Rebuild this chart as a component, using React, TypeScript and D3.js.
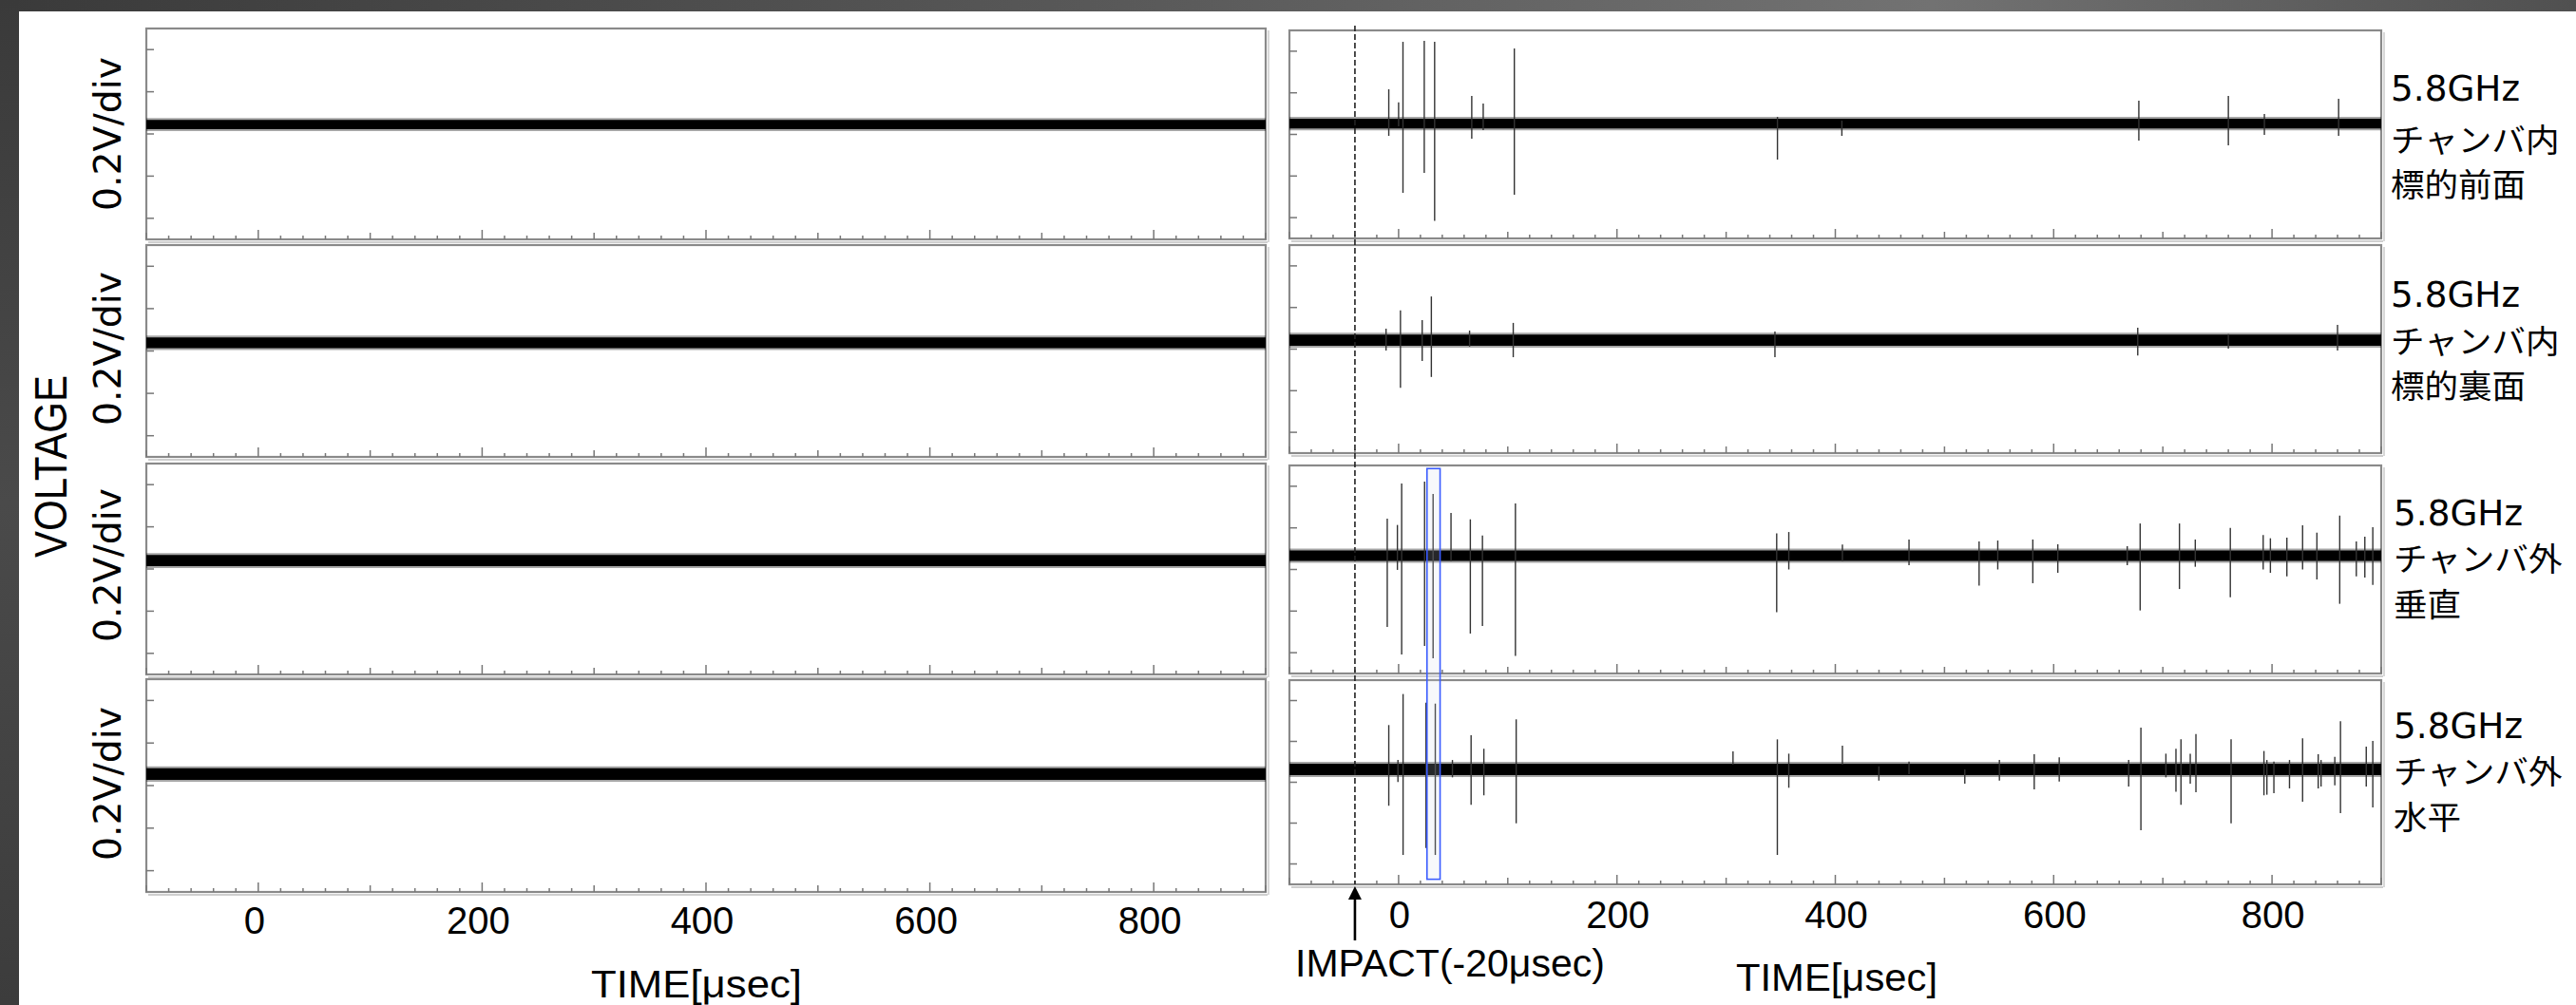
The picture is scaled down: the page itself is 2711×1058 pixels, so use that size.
import React, { useEffect } from 'react';
import * as d3 from 'd3';

// ---------- data ----------
const timeDomain: [number, number] = [-100, 900];
const voltDomain: [number, number] = [-0.5, 0.5];
const timeTickLabels = [0, 200, 400, 600, 800];
const voltTicks = [-0.4, -0.2, 0, 0.2, 0.4];
const impactTime = -40;
const highlightRange = [26, 38];

const channelLine1 = ['5.8GHz', '5.8GHz', '5.8GHz', '5.8GHz'];
const channelLine2 = ['チャンバ内', 'チャンバ内', 'チャンバ外', 'チャンバ外'];
const channelLine3 = ['標的前面', '標的裏面', '垂直', '水平'];

// baseline level and noise half-width (V) of each trace
const leftBaseline = [0.045, 0.039, 0.04, 0.054];
const leftNoise = [0.022, 0.025, 0.027, 0.027];
const rightBaseline = [0.052, 0.043, 0.066, 0.063];
const rightNoise = [0.023, 0.027, 0.025, 0.028];

// spikes: [time μs, max V, min V]
const spikesCh1: number[][] = [
  [-9, 0.217, -0.007], [0, 0.154, 0.039], [4, 0.445, -0.281], [23.5, 0.45, -0.185],
  [33, 0.445, -0.415], [67, 0.185, -0.02], [77.5, 0.148, 0.02], [106, 0.413, -0.29],
  [347, 0.084, -0.121], [406, 0.066, -0.007], [678, 0.162, -0.03], [760, 0.185, -0.053],
  [793, 0.098, -0.002], [861, 0.171, -0.007],
];
const spikesCh2: number[][] = [
  [-11.5, 0.098, -0.007], [1.7, 0.186, -0.186], [21.6, 0.139, -0.057], [30, 0.253, -0.134],
  [65, 0.089, 0.012], [105, 0.126, -0.039], [344.7, 0.084, -0.039], [677, 0.103, -0.031],
  [760, 0.072, 0.002], [860, 0.116, -0.007],
];
const spikesCh3: number[][] = [
  [-10.4, 0.244, -0.276], [-1.1, 0.214, -0.002], [2.8, 0.413, -0.409], [23.8, 0.422, -0.368],
  [31.6, 0.363, -0.427], [48, 0.272, 0.04], [65.7, 0.241, -0.308], [76.8, 0.163, -0.272],
  [107, 0.317, -0.416], [346.3, 0.173, -0.205], [357.4, 0.18, 0], [406.5, 0.12, 0.04],
  [467.5, 0.144, 0.02], [531.7, 0.135, -0.078], [548.8, 0.139, 0], [580.9, 0.144, -0.066],
  [603.8, 0.121, -0.016], [667.4, 0.112, 0.02], [679.2, 0.221, -0.197], [715.2, 0.221, -0.094],
  [729.7, 0.144, 0.013], [761.8, 0.2, -0.133], [791.9, 0.166, 0], [798.5, 0.15, -0.016],
  [813.6, 0.153, -0.033], [828, 0.212, 0], [841.1, 0.177, -0.048], [862, 0.259, -0.165],
  [877.2, 0.135, -0.033], [885, 0.158, -0.039], [892.3, 0.203, -0.074],
];
const spikesCh4: number[][] = [
  [-9, 0.28, -0.115], [-0.6, 0.109, 0.001], [4.1, 0.432, -0.356], [25.1, 0.389, -0.322],
  [33.6, 0.385, -0.356], [49.3, 0.109, 0.024], [66.4, 0.23, -0.111], [78.1, 0.164, -0.064],
  [107.7, 0.308, -0.201], [306.3, 0.151, 0.086], [346.9, 0.21, -0.356], [357.4, 0.14, -0.027],
  [406.5, 0.179, 0.086], [439.9, 0.078, 0.008], [467.5, 0.101, 0.04], [518.6, 0.063, -0.007],
  [550.3, 0.109, 0.008], [582.2, 0.137, -0.035], [605.1, 0.122, 0.004], [668.7, 0.109, -0.021],
  [679.9, 0.267, -0.235], [702.8, 0.14, 0.024], [712, 0.164, -0.046], [716.6, 0.21, -0.111],
  [725.1, 0.14, -0.007], [730.3, 0.236, -0.049], [762.5, 0.21, -0.201], [792.6, 0.153, -0.064],
  [795.3, 0.109, -0.061], [801.7, 0.101, -0.053], [816, 0.109, -0.03], [828, 0.215, -0.095],
  [842.3, 0.137, -0.03], [844.9, 0.109, -0.021], [857.5, 0.125, -0.015], [862.7, 0.299, -0.151],
  [886.3, 0.174, -0.021], [892.3, 0.202, -0.123],
];
const rightSpikes = [spikesCh1, spikesCh2, spikesCh3, spikesCh4];

// ---------- layout ----------
const W = 2711;
const H = 1058;
const leftX: [number, number] = [154, 1332];
const rightX: [number, number] = [1357, 2506];
const leftTops = [30, 258, 488, 715];
const leftBottoms = [252, 481, 710, 939];
const rightTops = [32, 258, 490, 716];
const rightBottoms = [251, 477, 709, 931];
const labelBase = [
  [106, 160, 207],
  [323, 372, 419],
  [553, 601, 649],
  [777, 825, 873],
];
const labelX = [2516, 2516, 2519, 2519];
const voltLabelCenters = [141, 367, 595, 825];
const CJK_ADV = 35.5;

const xLeft = d3.scaleLinear().domain(timeDomain).range(leftX);
const xRight = d3.scaleLinear().domain(timeDomain).range(rightX);
const allTicks = d3.range(timeDomain[0], timeDomain[1] + 1, 20);

const FRAME = '#8a8a8a';

function Panel(props: {
  xs: d3.ScaleLinear<number, number>;
  top: number;
  bottom: number;
  baseline: number;
  noise: number;
  spikes: number[][];
  id: string;
}) {
  const { xs, top, bottom, baseline, noise, spikes, id } = props;
  const ys = d3.scaleLinear().domain(voltDomain).range([bottom, top]);
  const [x0, x1] = xs.range();
  const band = d3
    .area<number>()
    .x((t) => xs(t))
    .y0(() => ys(baseline - noise))
    .y1(() => ys(baseline + noise));
  const fuzz = d3
    .area<number>()
    .x((t) => xs(t))
    .y0(() => ys(baseline - noise) + 2)
    .y1(() => ys(baseline + noise) - 2);
  const tickLen = (t: number) => (t % 200 === 0 ? 10 : t % 100 === 0 ? 7 : 4);
  return (
    <g>
      <clipPath id={id}>
        <rect x={x0} y={top} width={x1 - x0} height={bottom - top} />
      </clipPath>
      {/* shadow */}
      <line x1={x0 + 2} x2={x1 + 2} y1={bottom + 3} y2={bottom + 3} stroke="#cfcfcf" strokeWidth={2} />
      <line x1={x1 + 3} x2={x1 + 3} y1={top + 2} y2={bottom + 3} stroke="#d8d8d8" strokeWidth={2} />
      <rect x={x0} y={top} width={x1 - x0} height={bottom - top} fill="#fff" stroke={FRAME} strokeWidth={2.2} />
      <g clipPath={`url(#${id})`}>
        <path d={fuzz(timeDomain) || ''} fill="#000" opacity={0.35} />
        <path d={band(timeDomain) || ''} fill="#000" />
        {spikes.map((s, i) => (
          <line
            key={i}
            x1={xs(s[0])}
            x2={xs(s[0])}
            y1={ys(s[1])}
            y2={ys(s[2])}
            stroke="#333"
            strokeWidth={1.4}
          />
        ))}
      </g>
      {voltTicks.map((v) => (
        <line key={v} x1={x0} x2={x0 + 8} y1={ys(v)} y2={ys(v)} stroke="#777" strokeWidth={1.5} />
      ))}
      {allTicks.map((t) => (
        <line
          key={t}
          x1={xs(t)}
          x2={xs(t)}
          y1={bottom}
          y2={bottom - tickLen(t)}
          stroke="#777"
          strokeWidth={1.5}
        />
      ))}
    </g>
  );
}

export default function App() {
  useEffect(() => {
    document.body.style.margin = '0';
    document.body.style.overflow = 'hidden';
  }, []);

  const impX = xRight(impactTime);
  const yHiTop = d3.scaleLinear().domain(voltDomain).range([rightBottoms[2], rightTops[2]])(0.485);
  const yHiBot = d3.scaleLinear().domain(voltDomain).range([rightBottoms[3], rightTops[3]])(-0.475);

  return (
    <svg
      width={W}
      height={H}
      style={{ position: 'absolute', left: 0, top: 0, display: 'block' }}
      xmlns="http://www.w3.org/2000/svg"
    >
      <defs>
        <linearGradient id="topGrad" x1="0" x2="1" y1="0" y2="0">
          <stop offset="0" stopColor="#3a3a3a" />
          <stop offset="0.45" stopColor="#5a5a5a" />
          <stop offset="0.75" stopColor="#727272" />
          <stop offset="1" stopColor="#505050" />
        </linearGradient>
        <linearGradient id="leftGrad" x1="0" x2="0" y1="0" y2="1">
          <stop offset="0" stopColor="#3a3a3a" />
          <stop offset="0.5" stopColor="#4a4a4a" />
          <stop offset="1" stopColor="#3c3c3c" />
        </linearGradient>
      </defs>
      <rect x={0} y={0} width={W} height={H} fill="#fff" />
      <rect x={0} y={0} width={W} height={12} fill="url(#topGrad)" />
      <rect x={0} y={0} width={20} height={H} fill="url(#leftGrad)" />

      {leftTops.map((top, i) => (
        <Panel
          key={'L' + i}
          id={'clipL' + i}
          xs={xLeft}
          top={top}
          bottom={leftBottoms[i]}
          baseline={leftBaseline[i]}
          noise={leftNoise[i]}
          spikes={[]}
        />
      ))}
      {rightTops.map((top, i) => (
        <Panel
          key={'R' + i}
          id={'clipR' + i}
          xs={xRight}
          top={top}
          bottom={rightBottoms[i]}
          baseline={rightBaseline[i]}
          noise={rightNoise[i]}
          spikes={rightSpikes[i]}
        />
      ))}

      {/* impact dashed line */}
      <line x1={impX} x2={impX} y1={27} y2={rightBottoms[3]} stroke="#222" strokeWidth={1.6} strokeDasharray="6,3" />
      {/* highlight box */}
      <rect
        x={xRight(highlightRange[0])}
        y={yHiTop}
        width={xRight(highlightRange[1]) - xRight(highlightRange[0])}
        height={yHiBot - yHiTop}
        fill="rgba(210,215,235,0.18)"
        stroke="#3a5cff"
        strokeWidth={1.6}
      />
      {/* arrow */}
      <line x1={impX} x2={impX} y1={990} y2={942} stroke="#000" strokeWidth={2.6} />
      <path d={`M${impX},933 L${impX - 7},947 L${impX + 7},947 Z`} fill="#000" />

      {/* y labels */}
      {voltLabelCenters.map((c, i) => (
        <text
          key={i}
          transform={`translate(127,${c}) rotate(-90)`}
          textAnchor="middle"
          fontFamily="DejaVu Sans, Verdana, sans-serif"
          fontSize={39}
          textLength={162}
          lengthAdjust="spacingAndGlyphs"
          fill="#000"
        >
          0.2V/div
        </text>
      ))}
      <text
        transform="translate(70,491) rotate(-90)"
        textAnchor="middle"
        fontFamily="Liberation Sans Narrow, Liberation Sans, sans-serif"
        fontSize={48}
        textLength={192}
        lengthAdjust="spacingAndGlyphs"
        fill="#000"
      >
        VOLTAGE
      </text>

      {/* x tick labels */}
      {timeTickLabels.map((t) => (
        <text
          key={'lt' + t}
          x={xLeft(t) - 4}
          y={983}
          textAnchor="middle"
          fontFamily="Liberation Sans, Arial, sans-serif"
          fontSize={40}
          fill="#000"
        >
          {t}
        </text>
      ))}
      {timeTickLabels.map((t) => (
        <text
          key={'rt' + t}
          x={xRight(t) + 1}
          y={977}
          textAnchor="middle"
          fontFamily="Liberation Sans, Arial, sans-serif"
          fontSize={40}
          fill="#000"
        >
          {t}
        </text>
      ))}
      <text
        x={733}
        y={1050}
        textAnchor="middle"
        fontFamily="Liberation Sans, Arial, sans-serif"
        fontSize={41}
        textLength={222}
        lengthAdjust="spacingAndGlyphs"
      >
        TIME[μsec]
      </text>
      <text
        x={1933}
        y={1043}
        textAnchor="middle"
        fontFamily="Liberation Sans, Arial, sans-serif"
        fontSize={41}
        textLength={212}
        lengthAdjust="spacingAndGlyphs"
      >
        TIME[μsec]
      </text>
      <text
        x={1363}
        y={1028}
        fontFamily="Liberation Sans, Arial, sans-serif"
        fontSize={41}
        textLength={326}
        lengthAdjust="spacingAndGlyphs"
      >
        IMPACT(-20μsec)
      </text>

      {/* channel labels */}
      {channelLine1.map((s, i) => (
        <g key={'cl' + i} fill="#000">
          <text
            x={labelX[i]}
            y={labelBase[i][0]}
            fontSize={37}
            fontFamily="DejaVu Sans, Verdana, sans-serif"
            textLength={136}
            lengthAdjust="spacingAndGlyphs"
          >
            {s}
          </text>
          <text
            x={labelX[i]}
            y={labelBase[i][1]}
            fontSize={34}
            fontFamily="Noto Sans CJK JP, sans-serif"
            textLength={channelLine2[i].length * CJK_ADV}
            lengthAdjust="spacingAndGlyphs"
          >
            {channelLine2[i]}
          </text>
          <text
            x={labelX[i]}
            y={labelBase[i][2]}
            fontSize={34}
            fontFamily="Noto Sans CJK JP, sans-serif"
            textLength={channelLine3[i].length * CJK_ADV}
            lengthAdjust="spacingAndGlyphs"
          >
            {channelLine3[i]}
          </text>
        </g>
      ))}
    </svg>
  );
}
